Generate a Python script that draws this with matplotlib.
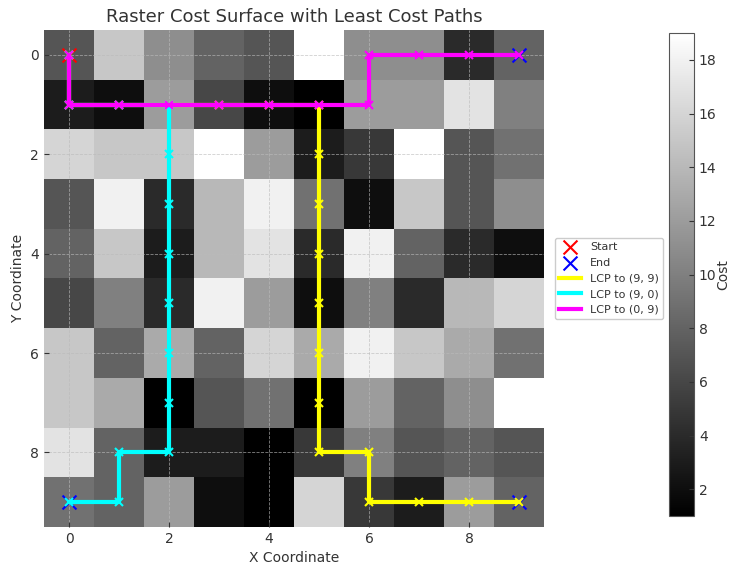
import numpy as np
import matplotlib
matplotlib.use("Agg")
import matplotlib.pyplot as plt

# cost raster (rows = y, cols = x)
cost = np.array([
    [7, 15, 11, 8, 7, 19, 11, 11, 4, 8],
    [3, 2, 12, 6, 2, 1, 12, 12, 17, 10],
    [16, 15, 15, 19, 12, 3, 5, 19, 7, 9],
    [7, 18, 4, 14, 18, 9, 2, 15, 7, 11],
    [8, 15, 3, 14, 17, 4, 18, 8, 4, 2],
    [6, 10, 4, 18, 12, 2, 10, 4, 14, 16],
    [15, 8, 13, 8, 16, 13, 18, 15, 13, 9],
    [15, 13, 1, 7, 9, 1, 12, 8, 11, 19],
    [17, 8, 3, 3, 1, 5, 10, 7, 8, 7],
    [9, 8, 12, 2, 1, 16, 5, 3, 12, 8],
])

start = (0, 0)
ends = [(9, 9), (9, 0), (0, 9)]

# paths as (row, col)
path_99 = [(0, 0), (1, 0), (1, 1), (1, 2), (1, 3), (1, 4), (1, 5), (2, 5), (3, 5),
           (4, 5), (5, 5), (6, 5), (7, 5), (8, 5), (8, 6), (9, 6), (9, 7), (9, 8), (9, 9)]
path_90 = [(0, 0), (1, 0), (1, 1), (1, 2), (2, 2), (3, 2), (4, 2), (5, 2), (6, 2),
           (7, 2), (8, 2), (8, 1), (9, 1), (9, 0)]
path_09 = [(0, 0), (1, 0), (1, 1), (1, 2), (1, 3), (1, 4), (1, 5), (1, 6), (0, 6),
           (0, 7), (0, 8), (0, 9)]

paths = [path_99, path_90, path_09]
colors = ['yellow', 'cyan', 'magenta']

plt.rcParams['font.family'] = 'DejaVu Sans'
plt.rcParams['text.color'] = '#333333'
plt.rcParams['axes.labelcolor'] = '#333333'
plt.rcParams['xtick.color'] = '#333333'
plt.rcParams['ytick.color'] = '#333333'
plt.rcParams['xtick.direction'] = 'in'
plt.rcParams['ytick.direction'] = 'in'

fig = plt.figure(figsize=(7.31, 5.64), dpi=100)
W, H = 731, 564
ax = fig.add_axes([44 / W, (H - 527) / H, 500 / W, 497 / H])
cax = fig.add_axes([669 / W, (H - 516) / H, 25 / W, 483 / H])

im = ax.imshow(cost, cmap='gray', aspect='auto', vmin=cost.min(), vmax=cost.max())
cb = fig.colorbar(im, cax=cax)
cb.set_label('Cost', fontsize=10, labelpad=0)
cb.ax.tick_params(direction='in', labelsize=10)
cb.outline.set_edgecolor('#555555')

ax.scatter(start[1], start[0], color='red', marker='x', s=100, label='Start', zorder=3)
for i, e in enumerate(ends):
    ax.scatter(e[1], e[0], color='blue', marker='x', s=100,
               label='End' if i == 0 else None, zorder=3)

for p, c, e in zip(paths, colors, ends):
    rows = [q[0] for q in p]
    cols = [q[1] for q in p]
    ax.plot(cols, rows, color=c, linewidth=3, label=f'LCP to {e}', zorder=4)
    ax.plot(cols, rows, color=c, linestyle='none', marker='x', markersize=6,
            markeredgewidth=1.5, zorder=4)

ax.set_title('Raster Cost Surface with Least Cost Paths', fontsize=13)
ax.set_xlabel('X Coordinate', fontsize=10)
ax.set_ylabel('Y Coordinate', fontsize=10)
ax.set_xticks([0, 2, 4, 6, 8])
ax.set_yticks([0, 2, 4, 6, 8])
ax.grid(True, linestyle='--', color='#bbbbbb', linewidth=0.6, alpha=0.7)
for s in ax.spines.values():
    s.set_visible(False)
ax.legend(loc='center left', bbox_to_anchor=(1.01, 0.5), fontsize=8, framealpha=1)

fig.savefig('out.png', dpi=100)
